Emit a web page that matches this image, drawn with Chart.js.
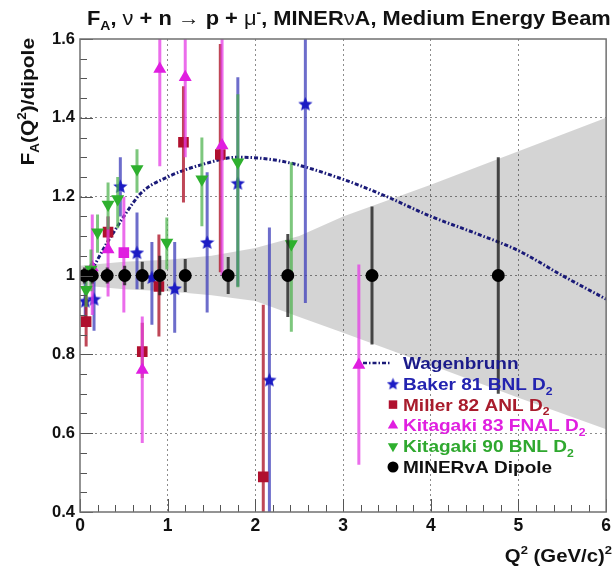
<!DOCTYPE html>
<html>
<head>
<meta charset="utf-8">
<script src="https://cdn.jsdelivr.net/npm/chart.js@4.4.1/dist/chart.umd.min.js"></script>
<style>
  html, body { margin: 0; padding: 0; background: #fff; }
  #wrap { width: 615px; height: 571px; position: relative; }
</style>
</head>
<body>
<div id="wrap"><canvas id="chart"></canvas></div>
<script>
// ---- axis ticks ----
const xTickValues = [0, 1, 2, 3, 4, 5, 6];
const xTickLabels = ['0', '1', '2', '3', '4', '5', '6'];
const yTickValues = [0.4, 0.6, 0.8, 1.0, 1.2, 1.4, 1.6];
const yTickLabels = ['0.4', '0.6', '0.8', '1', '1.2', '1.4', '1.6'];

// ---- MINERvA dipole (ratio = 1, with uncertainty) ----
const dipoleQ2    = [0.05, 0.14, 0.31, 0.51, 0.71, 0.91, 1.20, 1.69, 2.37, 3.33, 4.77];
const dipoleRatio = [1, 1, 1, 1, 1, 1, 1, 1, 1, 1, 1];
const dipoleErr   = [0.02, 0.02, 0.02, 0.025, 0.035, 0.05, 0.042, 0.047, 0.105, 0.175, 0.30];

// ---- Baker 81 BNL D2 ----
const bakerQ2    = [0.06, 0.16, 0.46, 0.65, 0.82, 1.08, 1.45, 1.80, 2.16, 2.57];
const bakerRatio = [0.935, 0.94, 1.226, 1.058, 0.995, 0.967, 1.084, 1.234, 0.735, 1.435];
const bakerLow   = [0.87, 0.86, 1.15, 0.965, 0.875, 0.855, 0.906, 0.972, 0.30, 0.93];
const bakerHigh  = [1.00, 1.02, 1.30, 1.16, 1.085, 1.085, 1.262, 1.503, 1.122, 1.70];

// ---- Miller 82 ANL D2 ----
const millerQ2    = [0.07, 0.32, 0.71, 0.90, 1.18, 1.60, 2.09];
const millerRatio = [0.883, 1.11, 0.807, 0.972, 1.338, 1.307, 0.489];
const millerLow   = [0.82, 1.07, 0.74, 0.845, 1.185, 1.008, 0.30];
const millerHigh  = [0.95, 1.15, 0.88, 1.104, 1.48, 1.587, 0.926];

// ---- Kitagaki 83 FNAL D2 ----
const kit83Q2    = [0.14, 0.32, 0.50, 0.71, 0.91, 1.20, 1.62, 3.18];
const kit83Ratio = [1.02, 1.066, 1.058, 0.76, 1.524, 1.503, 1.33, 0.773];
const kit83Low   = [0.90, 0.947, 0.906, 0.575, 1.277, 1.30, 1.00, 0.52];
const kit83High  = [1.155, 1.15, 1.20, 0.896, 1.70, 1.70, 1.70, 1.028];

// ---- Kitagaki 90 BNL D2 ----
const kit90Q2    = [0.07, 0.125, 0.20, 0.32, 0.43, 0.65, 0.99, 1.39, 1.80, 2.41];
const kit90Ratio = [0.964, 1.015, 1.11, 1.18, 1.194, 1.27, 1.084, 1.244, 1.287, 1.08];
const kit90Low   = [0.92, 0.96, 1.058, 1.117, 1.12, 1.21, 1.015, 1.125, 0.97, 0.857];
const kit90High  = [1.01, 1.066, 1.155, 1.236, 1.25, 1.32, 1.147, 1.35, 1.46, 1.287];

// ---- Wagenbrunn curve ----
const wagQ2    = [0.1, 0.2, 0.3, 0.4, 0.5, 0.7, 1.0, 1.4, 1.8, 2.3, 3.0, 3.5, 4.0, 4.5, 5.0, 5.5, 6.0];
const wagRatio = [1.00, 1.04, 1.08, 1.115, 1.15, 1.21, 1.25, 1.282, 1.30, 1.29, 1.244, 1.20, 1.15, 1.108, 1.063, 1.00, 0.94];

// ---- grey uncertainty band ----
const bandQ2    = [0, 0.5, 1, 1.5, 2, 2.5, 3, 4, 5, 6];
const bandUpper = [1.025, 1.035, 1.04, 1.05, 1.07, 1.10, 1.15, 1.23, 1.315, 1.40];
const bandLower = [0.975, 0.965, 0.96, 0.95, 0.935, 0.895, 0.855, 0.773, 0.69, 0.61];

const FONT = '"Liberation Sans", Arial, Helvetica, sans-serif';
const pts = (xs, ys) => xs.map((x, i) => ({ x, y: ys[i] }));

function makeStar(color, size) {
    const c = document.createElement('canvas');
    c.width = c.height = size;
    const g = c.getContext('2d');
    const R = size / 2, r = R * 0.45;
    g.beginPath();
    for (let i = 0; i < 10; i++) {
        const a = -Math.PI / 2 + i * Math.PI / 5;
        const rad = i % 2 ? r : R;
        g.lineTo(R + rad * Math.cos(a), R + 0.5 + rad * Math.sin(a));
    }
    g.closePath();
    g.fillStyle = color;
    g.fill();
    return c;
}
const starImg = makeStar('#1c1cc4', 15);
const starSmall = makeStar('#1c1cc4', 13);

// rich text: parts of {t, sub, sup, greek}; stretch widens glyphs like the ROOT font
function partFont(p, size) {
    const s = (p.sub || p.sup) ? size * 0.64 : size;
    return (p.greek ? '' : 'bold ') + s.toFixed(1) + 'px ' + FONT;
}
function richWidth(ctx, parts, size) {
    let w = 0;
    parts.forEach(p => { ctx.font = partFont(p, size); w += ctx.measureText(p.t).width; });
    return w;
}
function drawRich(ctx, parts, x, y, size, align, color, stretch = 1) {
    const w = richWidth(ctx, parts, size) * stretch;
    const x0 = align === 'right' ? x - w : align === 'center' ? x - w / 2 : x;
    ctx.save();
    ctx.translate(x0, y);
    ctx.scale(stretch, 1);
    ctx.textAlign = 'left';
    ctx.textBaseline = 'alphabetic';
    let cx = 0;
    parts.forEach(p => {
        ctx.font = partFont(p, size);
        ctx.fillStyle = color;
        const dy = p.sub ? size * 0.28 : p.sup ? -size * 0.42 : 0;
        ctx.fillText(p.t, cx, dy);
        cx += ctx.measureText(p.t).width;
    });
    ctx.restore();
}
function labelParts(label) {
    if (label.endsWith('₂')) return [{ t: label.slice(0, -1) }, { t: '2', sub: true }];
    return [{ t: label }];
}

const titleParts = [
    { t: 'F' }, { t: 'A', sub: true }, { t: ', ' }, { t: 'ν', greek: true }, { t: ' + n ' },
    { t: '→', greek: true }, { t: ' p + ' }, { t: 'μ', greek: true }, { t: '-', sup: true },
    { t: ', MINER' }, { t: 'ν', greek: true }, { t: 'A, Medium Energy Beam' }
];
const xTitleParts = [{ t: 'Q' }, { t: '2', sup: true }, { t: ' (GeV/c)' }, { t: '2', sup: true }];
const yTitleParts = [{ t: 'F' }, { t: 'A', sub: true }, { t: '(Q' }, { t: '2', sup: true }, { t: ')/dipole' }];

// error bars drawn just under each dataset's markers
const errorBarPlugin = {
    id: 'errorBars',
    beforeDatasetDraw(chart, args) {
        const ds = chart.data.datasets[args.index];
        if (!ds.errLow) return;
        const { ctx, chartArea: a, scales: { x, y } } = chart;
        ctx.save();
        ctx.beginPath();
        ctx.rect(a.left, a.top, a.right - a.left, a.bottom - a.top);
        ctx.clip();
        ctx.strokeStyle = ds.errColor;
        ctx.lineWidth = 3;
        ds.data.forEach((p, i) => {
            const px = x.getPixelForValue(p.x);
            ctx.beginPath();
            ctx.moveTo(px, y.getPixelForValue(ds.errLow[i]));
            ctx.lineTo(px, y.getPixelForValue(ds.errHigh[i]));
            ctx.stroke();
        });
        ctx.restore();
    }
};

// ROOT-like frame, inside ticks, titles and legend
const decorPlugin = {
    id: 'decor',
    afterDatasetsDraw(chart) {
        const { ctx, chartArea: a, scales: { x, y } } = chart;
        ctx.save();
        ctx.strokeStyle = '#555';
        ctx.lineWidth = 1;
        for (let i = 0; i <= 30; i++) {
            const px = Math.round(x.getPixelForValue(i * 0.2)) + 0.5;
            const len = i % 5 === 0 ? 13 : 7;
            ctx.beginPath(); ctx.moveTo(px, a.bottom); ctx.lineTo(px, a.bottom - len); ctx.stroke();
        }
        for (let i = 0; i <= 24; i++) {
            const py = Math.round(y.getPixelForValue(0.4 + i * 0.05)) + 0.5;
            const len = i % 4 === 0 ? 13 : 7;
            ctx.beginPath(); ctx.moveTo(a.left, py); ctx.lineTo(a.left + len, py); ctx.stroke();
        }
        ctx.strokeStyle = '#707070';
        ctx.lineWidth = 1.5;
        ctx.strokeRect(a.left, a.top, a.right - a.left, a.bottom - a.top);
        ctx.restore();
    },
    afterDraw(chart) {
        const { ctx, chartArea: a } = chart;
        ctx.save();
        drawRich(ctx, titleParts, 87, 25, 19.5, 'left', '#111', 1.12);
        drawRich(ctx, xTitleParts, 612, 562, 18.5, 'right', '#111', 1.1);
        ctx.translate(34, a.top - 1);
        ctx.rotate(-Math.PI / 2);
        drawRich(ctx, yTitleParts, 0, 0, 19, 'right', '#111', 1.1);
        ctx.restore();

        // legend
        ctx.save();
        const lx = 403, ly0 = 363, dy = 20.8;
        chart.data.datasets.forEach(ds => {
            if (ds.legendRow === undefined) return;
            const cy = ly0 + ds.legendRow * dy;
            if (ds.type === 'line') {
                ctx.strokeStyle = ds.borderColor;
                ctx.lineWidth = 2.5;
                ctx.setLineDash([4, 2, 1.5, 2]);
                ctx.beginPath(); ctx.moveTo(363, cy); ctx.lineTo(391, cy); ctx.stroke();
                ctx.setLineDash([]);
            } else {
                ctx.fillStyle = ds.pointBackgroundColor;
                Chart.helpers.drawPoint(ctx, {
                    pointStyle: ds.legendStyle, rotation: ds.pointRotation || 0,
                    radius: ds.legendRadius, borderWidth: 0
                }, 393, cy);
            }
            drawRich(ctx, labelParts(ds.label), lx, cy + 6, 17, 'left', ds.legendColor, 1.12);
        });
        ctx.restore();
    }
};

const scatterBase = { type: 'scatter', showLine: false, pointBorderWidth: 0, pointHoverRadius: 0 };

new Chart(document.getElementById('chart'), {
    type: 'scatter',
    data: {
        datasets: [
            { type: 'line', label: 'band upper', data: pts(bandQ2, bandUpper), borderColor: 'transparent',
              pointRadius: 0, fill: '+1', backgroundColor: 'rgba(0,0,0,0.17)', order: 10 },
            { type: 'line', label: 'band lower', data: pts(bandQ2, bandLower), borderColor: 'transparent',
              pointRadius: 0, fill: false, order: 9 },
            { type: 'line', label: 'Wagenbrunn', data: pts(wagQ2, wagRatio), borderColor: '#1a1a78',
              borderWidth: 3, borderDash: [4, 2, 1.5, 2], pointRadius: 0, fill: false,
              cubicInterpolationMode: 'monotone', order: 8, legendRow: 0, legendColor: '#1b1b8a' },
            { ...scatterBase, label: 'Baker 81 BNL D₂', data: pts(bakerQ2, bakerRatio),
              pointStyle: starImg, pointBackgroundColor: '#1c1cc4', pointRadius: 7,
              errLow: bakerLow, errHigh: bakerHigh, errColor: 'rgba(60,60,185,0.75)',
              order: 4, legendRow: 1, legendColor: '#2323b0', legendStyle: starSmall, legendRadius: 6 },
            { ...scatterBase, label: 'Miller 82 ANL D₂', data: pts(millerQ2, millerRatio),
              pointStyle: 'rect', pointBackgroundColor: '#b0102e', pointRadius: 7.5,
              errLow: millerLow, errHigh: millerHigh, errColor: 'rgba(175,25,45,0.8)',
              order: 3, legendRow: 2, legendColor: '#a81c2c', legendStyle: 'rect', legendRadius: 6 },
            { ...scatterBase, label: 'Kitagaki 83 FNAL D₂', data: pts(kit83Q2, kit83Ratio),
              pointStyle: ctx => ctx.dataIndex === 2 ? 'rect' : 'triangle',
              pointBackgroundColor: '#e01ee0', pointRadius: 7.5,
              errLow: kit83Low, errHigh: kit83High, errColor: 'rgba(228,60,228,0.75)',
              order: 2, legendRow: 3, legendColor: '#e020e0', legendStyle: 'triangle', legendRadius: 6 },
            { ...scatterBase, label: 'Kitagaki 90 BNL D₂', data: pts(kit90Q2, kit90Ratio),
              pointStyle: 'triangle', pointRotation: 180, pointBackgroundColor: '#2eb02e', pointRadius: 7.5,
              errLow: kit90Low, errHigh: kit90High, errColor: 'rgba(70,175,70,0.7)',
              order: 1, legendRow: 4, legendColor: '#2fa82f', legendStyle: 'triangle', legendRadius: 6 },
            { ...scatterBase, label: 'MINERvA Dipole', data: pts(dipoleQ2, dipoleRatio),
              pointStyle: 'circle', pointBackgroundColor: '#000', pointRadius: 6.5,
              errLow: dipoleRatio.map((r, i) => r - dipoleErr[i]),
              errHigh: dipoleRatio.map((r, i) => r + dipoleErr[i]),
              errColor: 'rgba(30,30,30,0.8)',
              order: 0, legendRow: 5, legendColor: '#111', legendStyle: 'circle', legendRadius: 5.5 }
        ]
    },
    options: {
        responsive: true,
        maintainAspectRatio: false,
        animation: false,
        events: [],
        layout: { padding: { left: 0, right: 8, top: 39, bottom: 0 } },
        plugins: { legend: { display: false }, tooltip: { enabled: false } },
        scales: {
            x: {
                type: 'linear', min: 0, max: 6,
                afterFit: s => { s.height = 59; },
                afterBuildTicks: s => { s.ticks = xTickValues.map(v => ({ value: v })); },
                ticks: {
                    autoSkip: false, maxRotation: 0, padding: 4, color: '#111',
                    font: { family: FONT, size: 17.5, weight: 'bold' },
                    callback: (v, i) => xTickLabels[i]
                },
                grid: {
                    drawTicks: false, lineWidth: 1,
                    color: c => (c.tick && (c.tick.value === 0 || c.tick.value === 6)) ? 'transparent' : '#8c8c8c'
                },
                border: { display: false, dash: [2, 3] }
            },
            y: {
                type: 'linear', min: 0.4, max: 1.6,
                afterFit: s => { s.width = 80; },
                afterBuildTicks: s => { s.ticks = yTickValues.map(v => ({ value: v })); },
                ticks: {
                    autoSkip: false, padding: 5, color: '#111',
                    font: { family: FONT, size: 16.5, weight: 'bold' },
                    callback: (v, i) => yTickLabels[i]
                },
                grid: {
                    drawTicks: false, lineWidth: 1,
                    color: c => (c.tick && (c.tick.value === 0.4 || c.tick.value === 1.6)) ? 'transparent' : '#8c8c8c'
                },
                border: { display: false, dash: [2, 3] }
            }
        }
    },
    plugins: [errorBarPlugin, decorPlugin]
});
</script>
</body>
</html>
